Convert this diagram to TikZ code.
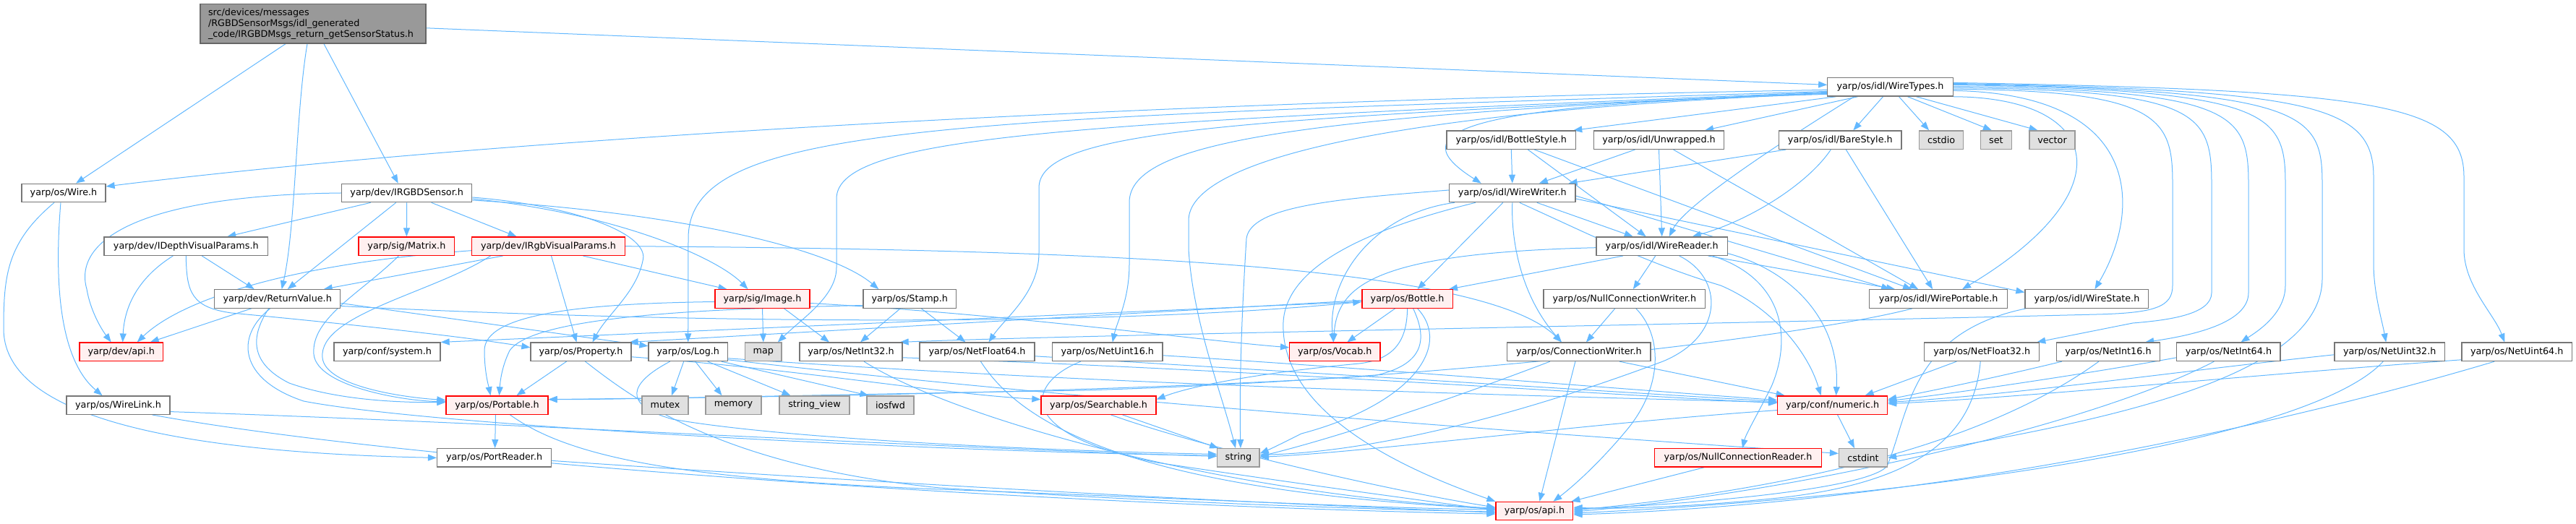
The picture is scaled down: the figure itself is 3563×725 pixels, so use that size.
\documentclass[tikz,border=0pt]{standalone}
\usepackage{fontspec}
\setmainfont{DejaVu Sans}
\usetikzlibrary{arrows.meta,backgrounds}
\definecolor{edgeblue}{HTML}{63B8FF}
\definecolor{boxline}{HTML}{777777}
\definecolor{redfill}{HTML}{FFF0F0}
\definecolor{sysfill}{HTML}{E0E0E0}
\definecolor{sysline}{HTML}{999999}
\definecolor{rootfill}{HTML}{999999}
\definecolor{rootline}{HTML}{666666}
\newcommand\hdrfont{\fontsize{12.75}{15}\selectfont}
\tikzset{
	hdr/.style={draw=boxline, fill=white, line width=1.3pt, minimum height=25.4pt, inner sep=0pt, font=\hdrfont},
	redhdr/.style={hdr, draw=red, fill=redfill},
	syshdr/.style={hdr, draw=sysline, fill=sysfill},
	roothdr/.style={hdr, draw=rootline, fill=rootfill},
	dep/.style={draw=edgeblue, line width=1pt, -{Triangle[length=12pt,width=9pt]}}
}
\begin{document}
\begin{tikzpicture}[x=1pt,y=1pt]
		\useasboundingbox (0,0) rectangle (3563,725);
		\node[roothdr, minimum width=312pt, minimum height=54.5pt, text width=290pt, align=left] (main) at (433,692.2) {src/devices/messages\\/RGBDSensorMsgs/idl\_generated\\\_code/IRGBDMsgs\_return\_getSensorStatus.h};
		\node[hdr, minimum width=173.4pt] (wiretypes) at (2614.5,604.6) {yarp/os/idl/WireTypes.h};
		\node[hdr, minimum width=178.6pt] (bottlestyle) at (2090.3,531.3) {yarp/os/idl/BottleStyle.h};
		\node[hdr, minimum width=179.9pt] (unwrapped) at (2294.5,531.3) {yarp/os/idl/Unwrapped.h};
		\node[hdr, minimum width=169.5pt] (barestyle) at (2545.3,531.3) {yarp/os/idl/BareStyle.h};
		\node[syshdr, minimum width=61.2pt] (cstdio) at (2685.1,531.3) {cstdio};
		\node[syshdr, minimum width=42.8pt] (set) at (2760.9,531.3) {set};
		\node[syshdr, minimum width=63pt] (vector) at (2838.5,531.3) {vector};
		\node[hdr, minimum width=116pt] (wire) at (88,458) {yarp/os/Wire.h};
		\node[hdr, minimum width=180.2pt] (irgbd) at (562.7,458) {yarp/dev/IRGBDSensor.h};
		\node[hdr, minimum width=174.2pt] (wirewriter) at (2091.8,458) {yarp/os/idl/WireWriter.h};
		\node[hdr, minimum width=226.5pt] (idepth) at (257.3,384.3) {yarp/dev/IDepthVisualParams.h};
		\node[redhdr, minimum width=132.7pt] (matrix) at (562.4,384.3) {yarp/sig/Matrix.h};
		\node[redhdr, minimum width=212.1pt] (irgbvis) at (758.5,384.3) {yarp/dev/IRgbVisualParams.h};
		\node[hdr, minimum width=181.4pt] (wirereader) at (2298.7,384.3) {yarp/os/idl/WireReader.h};
		\node[hdr, minimum width=174.1pt] (returnvalue) at (383.7,311.5) {yarp/dev/ReturnValue.h};
		\node[redhdr, minimum width=131pt] (image) at (1054.5,311.5) {yarp/sig/Image.h};
		\node[hdr, minimum width=128.5pt] (stamp) at (1258.3,311.5) {yarp/os/Stamp.h};
		\node[redhdr, minimum width=125.5pt] (bottle) at (1946.6,311.5) {yarp/os/Bottle.h};
		\node[hdr, minimum width=223.8pt] (nullconnwriter) at (2246.8,311.5) {yarp/os/NullConnectionWriter.h};
		\node[hdr, minimum width=191pt] (wireportable) at (2681.1,311.5) {yarp/os/idl/WirePortable.h};
		\node[hdr, minimum width=170.8pt] (wirestate) at (2886.4,311.5) {yarp/os/idl/WireState.h};
		\node[redhdr, minimum width=115.4pt] (devapi) at (167.7,238.2) {yarp/dev/api.h};
		\node[hdr, minimum width=147pt] (system) at (535.5,238.2) {yarp/conf/system.h};
		\node[hdr, minimum width=139pt] (property) at (803.5,238.2) {yarp/os/Property.h};
		\node[hdr, minimum width=109.4pt] (log) at (951.7,238.2) {yarp/os/Log.h};
		\node[syshdr, minimum width=50.5pt] (map) at (1055.8,238.2) {map};
		\node[hdr, minimum width=142pt] (netint32) at (1177,238.2) {yarp/os/NetInt32.h};
		\node[hdr, minimum width=159pt] (netfloat64) at (1351.5,238.2) {yarp/os/NetFloat64.h};
		\node[hdr, minimum width=152.4pt] (netuint16) at (1531.8,238.2) {yarp/os/NetUint16.h};
		\node[redhdr, minimum width=125.4pt] (vocab) at (1846.3,238.2) {yarp/os/Vocab.h};
		\node[hdr, minimum width=198.3pt] (connwriter) at (2183.9,238.2) {yarp/os/ConnectionWriter.h};
		\node[hdr, minimum width=158.8pt] (netfloat32) at (2741.2,238.2) {yarp/os/NetFloat32.h};
		\node[hdr, minimum width=143.1pt] (netint16) at (2915.9,238.2) {yarp/os/NetInt16.h};
		\node[hdr, minimum width=143.2pt] (netint64) at (3082.4,238.2) {yarp/os/NetInt64.h};
		\node[hdr, minimum width=152.3pt] (netuint32) at (3305.2,238.2) {yarp/os/NetUint32.h};
		\node[hdr, minimum width=152.3pt] (netuint64) at (3481.2,238.2) {yarp/os/NetUint64.h};
		\node[hdr, minimum width=143pt] (wirelink) at (163.5,164.4) {yarp/os/WireLink.h};
		\node[redhdr, minimum width=141pt] (portable) at (687.5,164.4) {yarp/os/Portable.h};
		\node[syshdr, minimum width=64pt] (mutex) at (920,164.4) {mutex};
		\node[syshdr, minimum width=77pt] (memory) at (1014.5,164.4) {memory};
		\node[syshdr, minimum width=97pt] (stringview) at (1126.5,164.4) {string\_view};
		\node[syshdr, minimum width=65pt] (iosfwd) at (1231.5,164.4) {iosfwd};
		\node[redhdr, minimum width=159pt] (searchable) at (1519.5,164.4) {yarp/os/Searchable.h};
		\node[redhdr, minimum width=151.9pt] (numeric) at (2534.6,164.4) {yarp/conf/numeric.h};
		\node[hdr, minimum width=158pt] (portreader) at (683.6,91.6) {yarp/os/PortReader.h};
		\node[syshdr, minimum width=58.3pt] (string) at (1712.9,91.6) {string};
		\node[redhdr, minimum width=230.7pt] (nullconnreader) at (2404,91.6) {yarp/os/NullConnectionReader.h};
		\node[syshdr, minimum width=67pt] (cstdint) at (2577,91.6) {cstdint};
		\node[redhdr, minimum width=106.8pt] (osapi) at (2122.4,17.9) {yarp/os/api.h};
		\begin{pgfonlayer}{background}
		\draw[dep] ([xshift=-38pt]main.south) -- ([xshift=17pt]wire.north);
		\draw[dep] ([xshift=-8pt]main.south) .. controls (409,570) and (409,410) .. ([xshift=6pt]returnvalue.north);
		\draw[dep] ([xshift=15pt]main.south) -- ([xshift=-12pt]irgbd.north);
		\draw[dep] ([yshift=-6pt]main.east) -- ([yshift=3pt]wiretypes.west);
		\draw[dep] ([yshift=-4pt]wiretypes.west) .. controls (1600,585) and (700,535) .. ([yshift=9pt]wire.east);
		\draw[dep] ([yshift=-6pt]wiretypes.west) .. controls (1300,560) and (952,555) .. (952,395) -- (log.north);
		\draw[dep] ([yshift=-7pt]wiretypes.west) .. controls (1500,555) and (1157,540) .. (1157,450) -- (1157,355) .. controls (1157,315) and (1110,285) .. ([xshift=20pt]map.north);
		\draw[dep] ([yshift=-8pt]wiretypes.west) .. controls (1700,560) and (1437,545) .. (1437,465) -- (1437,375) .. controls (1437,320) and (1390,285) .. ([xshift=16pt]netfloat64.north);
		\draw[dep] ([yshift=-8pt]wiretypes.west) .. controls (1800,565) and (1562,530) .. (1562,445) -- (1562,360) .. controls (1562,310) and (1545,280) .. ([xshift=7pt]netuint16.north);
		\draw[dep] ([yshift=-9pt]wiretypes.west) .. controls (1900,570) and (1644,500) .. (1644,420) -- (1644,380) .. controls (1650,280) and (1690,180) .. ([xshift=-4pt]string.north);
		\draw[dep] ([yshift=-10pt]wiretypes.west) .. controls (2000,580) and (1940,540) .. ([xshift=-43pt]wirewriter.north);
		\draw[dep] ([xshift=-75pt]wiretypes.south) -- ([xshift=-4pt]bottlestyle.north east);
		\draw[dep] ([xshift=-45pt]wiretypes.south) -- ([xshift=-27pt]unwrapped.north east);
		\draw[dep] ([xshift=-10pt]wiretypes.south) -- ([xshift=18pt]barestyle.north);
		\draw[dep] ([xshift=12pt]wiretypes.south) -- ([xshift=-17pt]cstdio.north);
		\draw[dep] ([xshift=24pt]wiretypes.south) -- ([xshift=-6pt]set.north);
		\draw[dep] ([xshift=36pt]wiretypes.south) -- ([xshift=-20pt]vector.north);
		\draw[dep] ([xshift=-50pt]wiretypes.south) .. controls (2450,520) and (2330,440) .. ([xshift=10pt]wirereader.north);
		\draw[dep] (wiretypes.south east) .. controls (2910,590) and (2940,460) .. ([xshift=33pt]wireportable.north);
		\draw[dep] ([yshift=-5pt]wiretypes.east) .. controls (2970,595) and (2960,430) .. ([xshift=11pt]wirestate.north);
		\draw[dep] ([yshift=-3pt]wiretypes.east) .. controls (2990,600) and (3005,560) .. (3005,470) -- (3005,330) .. controls (3005,300) and (2980,292) .. (2900,290) .. controls (2300,275) and (1500,262) .. ([xshift=-4pt]netint32.north east);
		\draw[dep] ([yshift=-1pt]wiretypes.east) .. controls (3040,600) and (3059,570) .. (3059,470) -- (3059,320) .. controls (3059,290) and (3000,282) .. (2950,278) -- ([xshift=-4pt]netfloat32.north east);
		\draw[dep] ([yshift=1pt]wiretypes.east) .. controls (3090,600) and (3110,570) .. (3110,470) -- (3110,320) .. controls (3110,280) and (3040,262) .. ([xshift=-21pt]netint16.north east);
		\draw[dep] ([yshift=3pt]wiretypes.east) .. controls (3140,600) and (3161,570) .. (3161,470) -- (3161,330) .. controls (3161,290) and (3120,265) .. ([xshift=17pt]netint64.north);
		\draw[dep] ([yshift=4pt]wiretypes.east) .. controls (3190,600) and (3212,570) .. (3212,470) -- (3212,340) .. controls (3212,200) and (2900,140) .. (cstdint.east);
		\draw[dep] ([yshift=5pt]wiretypes.east) .. controls (3200,600) and (3283,580) .. (3283,480) -- (3283,360) .. controls (3283,320) and (3295,280) .. ([xshift=-5pt]netuint32.north);
		\draw[dep] ([yshift=6pt]wiretypes.east) .. controls (3300,600) and (3408,580) .. (3408,480) -- (3408,380) .. controls (3408,330) and (3450,290) .. ([xshift=-17pt]netuint64.north);
		\draw[dep] ([xshift=-4pt]wire.south) .. controls (74,325) and (85,225) .. ([xshift=-22pt]wirelink.north);
		\draw[dep] ([xshift=-13pt]wire.south) .. controls (10,390) and (5,345) .. (5,270) .. controls (5,160) and (200,100) .. (portreader.west);
		\draw[dep] ([yshift=-9pt]wirelink.east) .. controls (700,140) and (1300,105) .. ([yshift=2pt]string.west);
		\draw[dep] ([xshift=47pt]wirelink.south) .. controls (600,80) and (1500,25) .. ([yshift=-4pt]osapi.west);
		\draw[dep] ([xshift=-2pt]portable.south) -- ([xshift=1pt]portreader.north);
		\draw[dep] ([xshift=18pt]portable.south) .. controls (790,90) and (950,62) .. (1300,48) .. controls (1650,35) and (1900,22) .. ([yshift=2pt]osapi.west);
		\draw[dep] ([yshift=-4pt]portreader.east) .. controls (1200,58) and (1700,30) .. ([yshift=-2pt]osapi.west);
		\draw[dep] (irgbd.west) .. controls (200,455) and (100,395) .. (120,325) .. controls (125,295) and (140,270) .. ([xshift=-14pt]devapi.north);
		\draw[dep] ([xshift=-50pt]irgbd.south) -- ([xshift=57pt]idepth.north);
		\draw[dep] ([xshift=-15pt]irgbd.south) -- ([xshift=14pt]returnvalue.north);
		\draw[dep] (irgbd.south) -- (matrix.north);
		\draw[dep] ([xshift=34pt]irgbd.south) -- ([xshift=-44pt]irgbvis.north);
		\draw[dep] ([yshift=-6pt]irgbd.east) .. controls (800,440) and (900,400) .. (889,364) .. controls (880,320) and (840,290) .. ([xshift=16pt]property.north);
		\draw[dep] ([yshift=-8pt]irgbd.east) .. controls (850,430) and (990,370) .. ([xshift=-20pt]image.north);
		\draw[dep] ([yshift=-10pt]irgbd.east) .. controls (950,430) and (1150,380) .. ([xshift=-43pt]stamp.north);
		\draw[dep] ([xshift=-18pt]idepth.south) .. controls (190,340) and (172,300) .. ([xshift=2pt]devapi.north);
		\draw[dep] ([xshift=22pt]idepth.south) -- ([xshift=-32pt]returnvalue.north);
		\draw[dep] (idepth.south) .. controls (258,320) and (265,300) .. (320,292) .. controls (500,275) and (650,258) .. ([yshift=6pt]property.west);
		\draw[dep] ([xshift=-11pt]matrix.south) .. controls (500,320) and (430,285) .. (434,235) .. controls (438,190) and (560,170) .. ([yshift=5pt]portable.west);
		\draw[dep] ([yshift=-6pt]irgbvis.west) .. controls (400,360) and (250,310) .. ([xshift=22pt]devapi.north);
		\draw[dep] ([xshift=-63pt]irgbvis.south) -- ([xshift=64pt]returnvalue.north);
		\draw[dep] ([xshift=4pt]irgbvis.south) -- ([xshift=-6pt]property.north);
		\draw[dep] ([xshift=48pt]irgbvis.south) -- ([xshift=-49pt]image.north);
		\draw[dep] (irgbvis.east) .. controls (1500,380) and (2050,360) .. ([xshift=-24pt]connwriter.north);
		\draw[dep] ([xshift=-80pt]irgbvis.south) .. controls (600,320) and (440,290) .. (446,230) .. controls (450,190) and (560,175) .. ([yshift=7pt]portable.west);
		\draw[dep] ([xshift=-36pt]returnvalue.south) -- ([xshift=40pt]devapi.north);
		\draw[dep] ([xshift=-12pt]returnvalue.south) .. controls (350,265) and (340,225) .. (400,195) .. controls (470,170) and (560,168) .. ([yshift=4pt]portable.west);
		\draw[dep] ([xshift=-10pt]returnvalue.south) .. controls (325,260) and (330,200) .. (420,170) .. controls (600,135) and (1300,100) .. ([yshift=3pt]string.west);
		\draw[dep] ([yshift=-6pt]returnvalue.east) -- ([yshift=8pt]log.west);
		\draw[dep] ([yshift=-10pt]returnvalue.east) .. controls (900,280) and (1500,270) .. ([yshift=-4pt]bottle.west);
		\draw[dep] ([yshift=-4pt]image.west) .. controls (800,305) and (670,290) .. (670,240) .. controls (670,210) and (676,190) .. ([xshift=-9pt]portable.north);
		\draw[dep] (image.south) -- (map.north);
		\draw[dep] ([xshift=30pt]image.south) -- ([xshift=-30pt]netint32.north);
		\draw[dep] ([yshift=-6pt]image.east) .. controls (1400,290) and (1650,255) .. ([yshift=6pt]vocab.west);
		\draw[dep] ([yshift=-9pt]stamp.west) .. controls (1000,298) and (740,290) .. (705,240) .. controls (695,220) and (692,200) .. ([xshift=3pt]portable.north);
		\draw[dep] ([xshift=-13pt]stamp.south) -- ([xshift=13pt]netint32.north);
		\draw[dep] ([xshift=16pt]stamp.south) -- ([xshift=-16pt]netfloat64.north);
		\draw[dep] ([xshift=-20pt]property.south) -- ([xshift=27pt]portable.north);
		\draw[dep] ([xshift=6pt]property.south) .. controls (880,170) and (1000,80) .. (1300,50) .. controls (1600,30) and (1900,20) .. ([yshift=-1pt]osapi.west);
		\draw[dep] ([yshift=-7pt]property.east) .. controls (1100,215) and (1300,180) .. ([yshift=8pt]searchable.west);
		\draw[dep] ([xshift=-6pt]log.south) -- ([xshift=9pt]mutex.north);
		\draw[dep] ([xshift=10pt]log.south) -- ([xshift=-16pt]memory.north);
		\draw[dep] ([xshift=27pt]log.south) -- ([xshift=-33pt]stringview.north);
		\draw[dep] ([xshift=46pt]log.south) -- ([xshift=-30pt]iosfwd.north);
		\draw[dep] ([xshift=-25pt]log.south) .. controls (870,195) and (860,165) .. (930,145) .. controls (1100,115) and (1500,100) .. ([yshift=5pt]string.west);
		\draw[dep] ([yshift=-9pt]log.east) .. controls (1500,195) and (2000,180) .. ([yshift=4pt]numeric.west);
		\draw[dep] ([yshift=-11pt]log.east) .. controls (1500,170) and (2200,120) .. ([yshift=6pt]cstdint.west);
		\draw[dep] ([yshift=-8pt]netint32.east) .. controls (1700,215) and (2200,180) .. ([yshift=3pt]numeric.west);
		\draw[dep] ([xshift=18pt]netint32.south) .. controls (1320,145) and (1700,40) .. ([yshift=4pt]osapi.west);
		\draw[dep] ([yshift=-6pt]netfloat64.east) .. controls (1800,210) and (2200,185) .. ([yshift=5pt]numeric.west);
		\draw[dep] ([xshift=5pt]netfloat64.south) .. controls (1420,125) and (1600,45) .. ([yshift=3pt]osapi.west);
		\draw[dep] ([yshift=-5pt]netuint16.east) .. controls (1900,215) and (2200,190) .. ([yshift=7pt]numeric.west);
		\draw[dep] ([xshift=-37pt]netuint16.south) .. controls (1420,195) and (1400,125) .. (1600,85) .. controls (1800,55) and (1950,35) .. ([yshift=1pt]osapi.west);
		\draw[dep] ([xshift=33pt]searchable.south) -- ([xshift=2pt]string.north west);
		\draw[dep] ([xshift=17pt]searchable.south) .. controls (1650,110) and (1900,50) .. ([yshift=5pt]osapi.west);
		\draw[dep] ([xshift=-17pt]bottle.south) -- ([xshift=17pt]vocab.north);
		\draw[dep] (bottle.south) .. controls (1946,255) and (1930,228) .. (1880,222) .. controls (1750,210) and (1650,192) .. ([yshift=8pt]searchable.east);
		\draw[dep] ([xshift=8pt]bottle.south) .. controls (1975,255) and (1970,220) .. (1900,205) .. controls (1500,180) and (1000,175) .. ([yshift=8pt]portable.east);
		\draw[dep] ([xshift=14pt]bottle.south) .. controls (2010,245) and (1950,165) .. (1800,125) .. controls (1780,115) and (1760,105) .. ([yshift=6pt]string.east);
		\draw[dep] ([yshift=-2pt]bottle.west) -- ([xshift=-3pt]property.north east);
		\draw[dep] ([yshift=-4pt]bottle.west) -- (system.north east);
		\draw[dep] ([yshift=4pt]wirewriter.west) .. controls (1850,450) and (1730,440) .. (1724,395) .. controls (1718,300) and (1714,200) .. ([xshift=3pt]string.north);
		\draw[dep] ([xshift=-80pt]wirewriter.south) .. controls (1900,430) and (1835,340) .. ([xshift=-2pt]vocab.north);
		\draw[dep] ([xshift=-13pt]wirewriter.south) -- ([xshift=14pt]bottle.north);
		\draw[dep] (wirewriter.south) .. controls (2090,400) and (2100,320) .. ([xshift=-24pt]connwriter.north);
		\draw[dep] ([xshift=34pt]wirewriter.south) -- ([xshift=-40pt]wirereader.north);
		\draw[dep] ([xshift=10pt]wirewriter.south) .. controls (2200,400) and (2280,360) .. (2380,330) .. controls (2450,300) and (2500,240) .. ([xshift=-16pt]numeric.north);
		\draw[dep] ([yshift=-4pt]wirewriter.east) -- ([xshift=-67pt]wireportable.north);
		\draw[dep] ([yshift=-8pt]wirewriter.east) -- ([yshift=9pt]wirestate.west);
		\draw[dep] ([xshift=-51pt]wirewriter.south) .. controls (1900,410) and (1780,360) .. (1775,280) .. controls (1770,170) and (1900,90) .. (osapi.north west);
		\draw[dep] ([yshift=-2pt]wirereader.west) .. controls (1900,375) and (1850,330) .. ([xshift=-2pt]vocab.north);
		\draw[dep] ([xshift=-54pt]wirereader.south) -- ([xshift=-6pt]bottle.north east);
		\draw[dep] ([xshift=-9pt]wirereader.south) -- ([xshift=12pt]nullconnwriter.north);
		\draw[dep] ([xshift=64pt]wirereader.south) -- ([xshift=-60pt]wireportable.north);
		\draw[dep] ([xshift=24pt]wirereader.south) .. controls (2385,340) and (2385,260) .. (2300,225) .. controls (2100,150) and (1900,100) .. ([yshift=4pt]string.east);
		\draw[dep] ([yshift=-10pt]wirereader.east) .. controls (2480,350) and (2545,280) .. ([xshift=5pt]numeric.north);
		\draw[dep] ([xshift=70pt]wirereader.south) .. controls (2465,340) and (2480,260) .. (2450,190) .. controls (2430,150) and (2415,125) .. ([xshift=6pt]nullconnreader.north);
		\draw[dep] ([xshift=-13pt]nullconnwriter.south) -- ([xshift=10pt]connwriter.north);
		\draw[dep] ([xshift=16pt]nullconnwriter.south) .. controls (2300,260) and (2300,190) .. (2250,130) .. controls (2200,70) and (2160,40) .. ([xshift=26pt]osapi.north);
		\draw[dep] ([xshift=-5pt]connwriter.south) -- ([xshift=7pt]osapi.north);
		\draw[dep] ([xshift=-40pt]connwriter.south) .. controls (2000,170) and (1850,120) .. ([yshift=2pt]string.east);
		\draw[dep] ([xshift=56pt]connwriter.south) -- ([xshift=-66pt]numeric.north);
		\draw[dep] (bottlestyle.south) -- (wirewriter.north);
		\draw[dep] ([xshift=23pt]bottlestyle.south) -- ([xshift=-22pt]wirereader.north);
		\draw[dep] ([xshift=32pt]bottlestyle.south) -- ([xshift=-37pt]wireportable.north);
		\draw[dep] ([xshift=-33pt]unwrapped.south) -- ([xshift=37pt]wirewriter.north);
		\draw[dep] (unwrapped.south) -- (wirereader.north);
		\draw[dep] ([xshift=20pt]unwrapped.south) -- ([xshift=-28pt]wireportable.north);
		\draw[dep] ([xshift=-75pt]barestyle.south) -- ([xshift=-10pt]wirewriter.north east);
		\draw[dep] ([xshift=-13pt]barestyle.south) .. controls (2500,470) and (2420,420) .. ([xshift=42pt]wirereader.north);
		\draw[dep] ([xshift=8pt]barestyle.south) -- ([xshift=-8pt]wireportable.north);
		\draw[dep] ([xshift=7pt]numeric.south) -- ([xshift=-12pt]cstdint.north);
		\draw[dep] ([yshift=-7pt]numeric.west) .. controls (2200,140) and (1900,100) .. ([yshift=1pt]string.east);
		\draw[dep] ([xshift=-47pt]nullconnreader.south) -- ([xshift=-3pt]osapi.north east);
		\draw[dep] ([xshift=2pt]wirestate.south west) .. controls (2640,265) and (2640,150) .. (2610,80) .. controls (2580,45) and (2300,25) .. ([yshift=3pt]osapi.east);
		\draw[dep] ([xshift=-36pt]wireportable.south) .. controls (2500,260) and (2000,200) .. (1500,185) .. controls (1100,178) and (850,172) .. ([yshift=8pt]portable.east);
		\draw[dep] ([xshift=-35pt]netfloat32.south) -- ([xshift=45pt]numeric.north);
		\draw[dep] ([xshift=-2pt]netfloat32.south) .. controls (2730,120) and (2650,55) .. (2450,35) .. controls (2350,25) and (2250,20) .. ([yshift=5pt]osapi.east);
		\draw[dep] ([xshift=-64pt]netint16.south) .. controls (2750,200) and (2650,180) .. ([yshift=8pt]numeric.east);
		\draw[dep] ([xshift=-13pt]netint16.south) .. controls (2800,150) and (2600,60) .. ([yshift=1pt]osapi.east);
		\draw[dep] ([yshift=-8pt]netint64.west) .. controls (2900,210) and (2700,180) .. ([yshift=6pt]numeric.east);
		\draw[dep] ([xshift=-20pt]netint64.south) .. controls (2900,140) and (2500,45) .. ([yshift=-1pt]osapi.east);
		\draw[dep] ([yshift=-4pt]netuint32.west) .. controls (3000,210) and (2800,180) .. ([yshift=4pt]numeric.east);
		\draw[dep] ([xshift=-9pt]netuint32.south) .. controls (3200,120) and (2700,40) .. ([yshift=-3pt]osapi.east);
		\draw[dep] ([yshift=-11pt]netuint64.west) .. controls (3100,205) and (2800,175) .. ([yshift=2pt]numeric.east);
		\draw[dep] ([xshift=-31pt]netuint64.south) .. controls (3200,150) and (2700,30) .. ([yshift=-5pt]osapi.east);
		\end{pgfonlayer}
	\end{tikzpicture}
\end{document}
